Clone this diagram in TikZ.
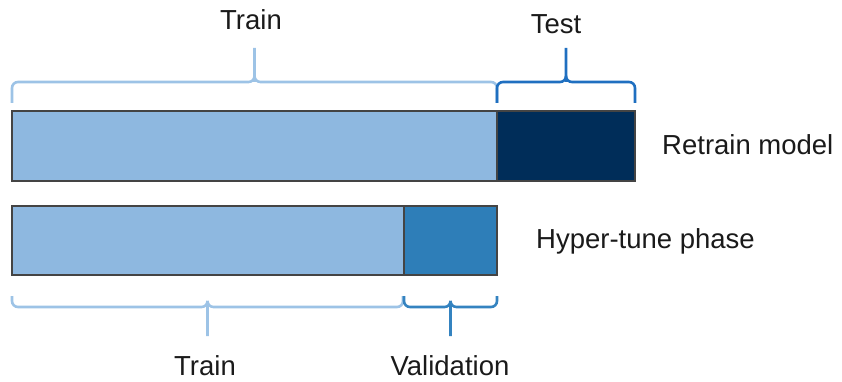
\documentclass[tikz,border=0pt]{standalone}
\usepackage{fontspec}
\setmainfont{Liberation Sans}
\usetikzlibrary{calc}
\definecolor{trainfill}{HTML}{8EB8E0}
\definecolor{testfill}{HTML}{002D59}
\definecolor{valfill}{HTML}{2E7EB8}
\definecolor{trainbrace}{HTML}{9DC3E6}
\definecolor{testbrace}{HTML}{1F6FC0}
\definecolor{valbrace}{HTML}{3483C0}
\definecolor{barline}{HTML}{444444}
\definecolor{labeltext}{HTML}{1A1A1A}
\tikzset{
  bar/.style={draw=barline, line width=1.4pt, inner sep=0pt, outer sep=0pt, anchor=north west},
  bracepath/.style={line width=2.6pt, rounded corners=6pt},
  lbl/.style={font=\fontsize{27.5}{32}\selectfont, text=labeltext, inner sep=0pt}
}
\begin{document}
\begin{tikzpicture}[x=1pt, y=-1pt]
\useasboundingbox (0,0) rectangle (842,382);

% upper bar: retraining on train + test
\node[bar, fill=trainfill, minimum width=485pt, minimum height=70pt] (trainA) at (12,111) {};
\node[bar, fill=testfill, minimum width=138pt, minimum height=70pt] (testA) at (trainA.north east) {};

% lower bar: hyper-parameter tuning on train + validation
\node[bar, fill=trainfill, minimum width=392pt, minimum height=69pt] (trainB) at (12,206) {};
\node[bar, fill=valfill, minimum width=93pt, minimum height=69pt] (valB) at (trainB.north east) {};

% braces above the upper bar
\coordinate (ta1) at ([yshift=8pt]trainA.north west);
\coordinate (ta2) at ([yshift=8pt]trainA.north east);
\coordinate (tam) at ($(ta1)!0.5!(ta2)$);
\draw[trainbrace, bracepath] (ta1) -- ++(0,-21) -| ([yshift=29pt]tam |- trainA.north) -- ++(0,-34);
\draw[trainbrace, bracepath] (ta2) -- ++(0,-21) -| ([yshift=29pt]tam |- trainA.north);

\coordinate (te1) at ([yshift=8pt]testA.north west);
\coordinate (te2) at ([yshift=8pt]testA.north east);
\coordinate (tem) at ($(te1)!0.5!(te2)$);
\draw[testbrace, bracepath] (te1) -- ++(0,-21) -| ([yshift=29pt]tem |- testA.north) -- ++(0,-34);
\draw[testbrace, bracepath] (te2) -- ++(0,-21) -| ([yshift=29pt]tem |- testA.north);

% braces below the lower bar
\coordinate (tb1) at ([yshift=-21pt]trainB.south west);
\coordinate (tb2) at ([xshift=-1pt, yshift=-21pt]trainB.south east);
\coordinate (tbm) at ($(tb1)!0.5!(tb2)$);
\draw[trainbrace, bracepath] (tb1) -- ++(0,11) -| ([yshift=-32pt]tbm |- trainB.south) -- ++(0,29);
\draw[trainbrace, bracepath] (tb2) -- ++(0,11) -| ([yshift=-32pt]tbm |- trainB.south);

\coordinate (vb1) at ([yshift=-21pt]valB.south west);
\coordinate (vb2) at ([yshift=-21pt]valB.south east);
\coordinate (vbm) at ($(vb1)!0.5!(vb2)$);
\draw[valbrace, bracepath] (vb1) -- ++(0,11) -| ([yshift=-32pt]vbm |- valB.south) -- ++(0,29);
\draw[valbrace, bracepath] (vb2) -- ++(0,11) -| ([yshift=-32pt]vbm |- valB.south);

% labels
\node[lbl] (ltrainA) at (251,20) {Train};
\node[lbl] (ltestA) at (556,24) {Test};
\node[lbl, anchor=west] (lretrain) at (662,145) {Retrain model};
\node[lbl, anchor=west] (lhyper) at (536,241) {Hyper-tune phase};
\node[lbl] (ltrainB) at (205,366) {Train};
\node[lbl] (lval) at (450,366) {Validation};
\end{tikzpicture}
\end{document}
